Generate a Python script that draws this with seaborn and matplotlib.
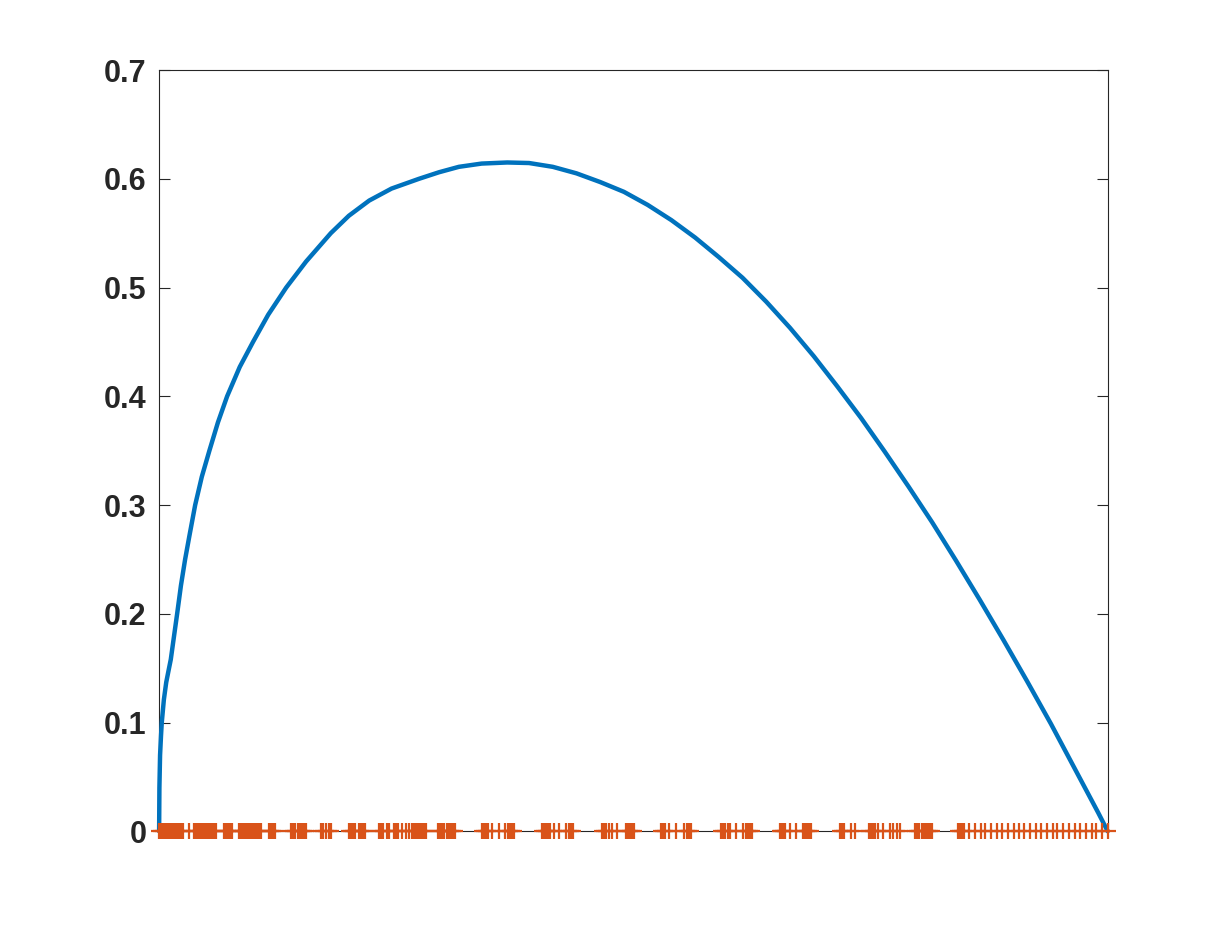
import matplotlib
matplotlib.use("Agg")
import matplotlib.pyplot as plt
import seaborn as sns
import pandas as pd

# ---- data ----
curve_x = [0.0, 0.0003, 0.001, 0.002, 0.0028, 0.005, 0.0075, 0.01, 0.0123, 0.015,
           0.019, 0.023, 0.0274, 0.032, 0.038, 0.045, 0.053, 0.062, 0.0717, 0.085,
           0.099, 0.115, 0.134, 0.155, 0.181, 0.2, 0.2215, 0.245, 0.274, 0.295,
           0.316, 0.34, 0.367, 0.39, 0.415, 0.44, 0.465, 0.49, 0.515, 0.54,
           0.565, 0.59, 0.615, 0.64, 0.665, 0.69, 0.715, 0.74, 0.765, 0.79,
           0.815, 0.84, 0.865, 0.89, 0.915, 0.94, 0.965, 0.99, 1.0]
curve_y = [0.0, 0.04, 0.07, 0.088, 0.10, 0.121, 0.137, 0.148, 0.158, 0.175,
           0.20, 0.226, 0.25, 0.272, 0.30, 0.326, 0.35, 0.376, 0.40, 0.427,
           0.45, 0.475, 0.50, 0.524, 0.55, 0.566, 0.58, 0.591, 0.60, 0.606,
           0.611, 0.614, 0.615, 0.6145, 0.611, 0.605, 0.597, 0.588, 0.576, 0.562,
           0.546, 0.528, 0.509, 0.487, 0.463, 0.437, 0.409, 0.38, 0.349, 0.317,
           0.284, 0.249, 0.213, 0.176, 0.138, 0.099, 0.058, 0.017, 0.0]

sample_x = [
    0.0, 0.0021, 0.0042, 0.0063, 0.0084, 0.0105, 0.0127, 0.0148, 0.0169, 0.0190, 0.0211, 0.0232, 0.0253,
    0.0316,
    0.0369, 0.0390, 0.0411, 0.0432, 0.0454, 0.0475, 0.0496, 0.0517, 0.0538, 0.0559, 0.0580, 0.0601,
    0.0686, 0.0707, 0.0728, 0.0749, 0.0770,
    0.0844, 0.0865, 0.0886, 0.0907, 0.0928, 0.0949, 0.0970, 0.0992, 0.1013, 0.1034, 0.1055, 0.1076,
    0.1160, 0.1181, 0.1203, 0.1224,
    0.1392, 0.1414, 0.1435, 0.1466, 0.1487, 0.1508, 0.1530, 0.1551,
    0.1709, 0.1730, 0.1762, 0.1793, 0.1814,
    0.2004, 0.2025, 0.2046, 0.2068, 0.2110, 0.2131, 0.2152, 0.2173,
    0.2321, 0.2342, 0.2363, 0.2405, 0.2426, 0.2479, 0.2500, 0.2521, 0.2563, 0.2605, 0.2637,
    0.2669, 0.2690, 0.2711, 0.2732, 0.2753, 0.2774, 0.2795, 0.2816,
    0.2943, 0.2964, 0.2985, 0.3006, 0.3038, 0.3059, 0.3080, 0.3101, 0.3122,
    0.3407, 0.3428, 0.3449, 0.3470, 0.3513, 0.3586, 0.3650, 0.3681, 0.3703, 0.3724, 0.3745,
    0.4040, 0.4061, 0.4082, 0.4103, 0.4124, 0.4167, 0.4219, 0.4293, 0.4325, 0.4346, 0.4367,
    0.4673, 0.4694, 0.4715, 0.4747, 0.4778, 0.4831, 0.4926, 0.4947, 0.4968, 0.4989, 0.5011,
    0.5295, 0.5316, 0.5338, 0.5380, 0.5454, 0.5538, 0.5570, 0.5591, 0.5612,
    0.5928, 0.5949, 0.5970, 0.5992, 0.6013, 0.6086, 0.6150, 0.6192, 0.6213, 0.6234, 0.6255,
    0.6540, 0.6561, 0.6582, 0.6603, 0.6646, 0.6709, 0.6783, 0.6804, 0.6825, 0.6846, 0.6867,
    0.7173, 0.7194, 0.7215, 0.7289, 0.7331,
    0.7479, 0.7500, 0.7521, 0.7542, 0.7574, 0.7627, 0.7700, 0.7732, 0.7774, 0.7806,
    0.7964, 0.7985, 0.8006, 0.8038, 0.8059, 0.8080, 0.8101, 0.8122, 0.8143,
    0.8418, 0.8439, 0.8460, 0.8481,
    0.854, 0.860, 0.866, 0.871, 0.877, 0.883, 0.889, 0.895, 0.901, 0.906, 0.912, 0.918, 0.924,
    0.930, 0.936, 0.942, 0.947, 0.953, 0.959, 0.965, 0.971, 0.977, 0.983, 0.988, 0.994, 1.000,
]
sample_y = [0.0] * len(sample_x)

y_ticks = [0, 0.1, 0.2, 0.3, 0.4, 0.5, 0.6, 0.7]
y_ticklabels = ["0", "0.1", "0.2", "0.3", "0.4", "0.5", "0.6", "0.7"]

# ---- style ----
sns.set_theme(style="white")
plt.rcParams["font.family"] = ["Liberation Sans", "DejaVu Sans"]
plt.rcParams["font.weight"] = "bold"

fig = plt.figure(figsize=(12.24, 9.34), dpi=100)
ax = fig.add_axes([0.13, 0.11, 0.775, 0.815])

curve_df = pd.DataFrame({"x": curve_x, "y": curve_y})
samp_df = pd.DataFrame({"x": sample_x, "y": sample_y})

sns.lineplot(data=curve_df, x="x", y="y", ax=ax, color="#0072BD", linewidth=3.2,
             sort=False, estimator=None)
for l in ax.lines:
    l.set_clip_on(False)
    l.set_zorder(3)
    l.set_solid_joinstyle("round")

sns.scatterplot(data=samp_df, x="x", y="y", ax=ax, marker="+", s=125,
                color="#D95319", linewidth=1.6)
for c in ax.collections:
    c.set_clip_on(False)
    c.set_zorder(4)

ax.set_xlim(0, 1)
ax.set_ylim(0, 0.7)
ax.set_xticks([])
ax.set_yticks(y_ticks)
ax.set_yticklabels(y_ticklabels, fontsize=22, fontweight="bold", color="#262626")
ax.set_xlabel("")
ax.set_ylabel("")
ax.tick_params(axis="y", direction="in", length=8, width=0.8, color="#262626",
               left=True, right=True, labelright=False, pad=9)
for s in ax.spines.values():
    s.set_visible(True)
    s.set_color("#262626")
    s.set_linewidth(0.8)
ax.spines["bottom"].set_zorder(2)

fig.savefig("out.png", dpi=100)
